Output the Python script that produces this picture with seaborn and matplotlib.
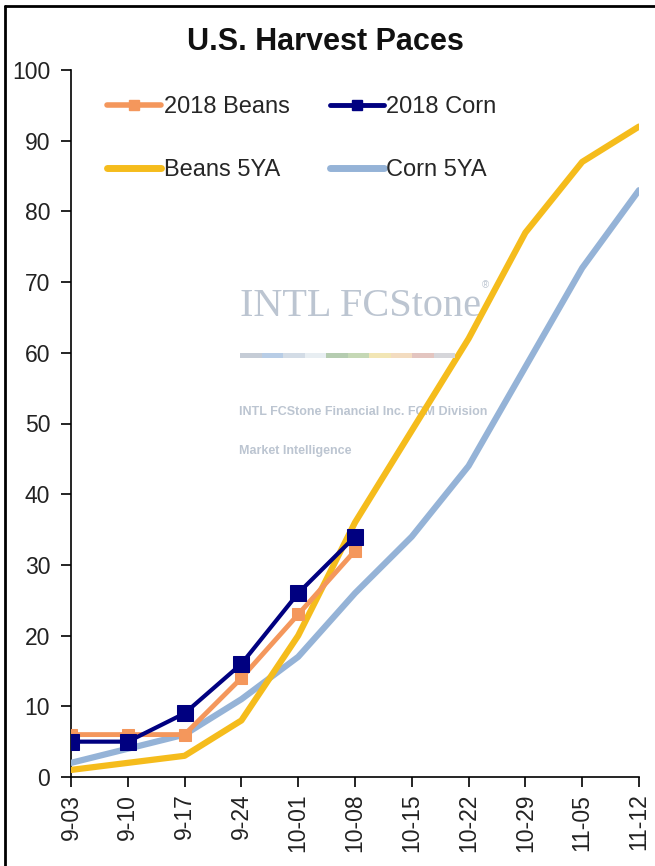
import numpy as np
import pandas as pd
import matplotlib
matplotlib.use('Agg')
import matplotlib.pyplot as plt
from matplotlib.lines import Line2D
from matplotlib.patches import Rectangle
import seaborn as sns

# harvest progress, percent harvested
weeks = ['9-03', '9-10', '9-17', '9-24', '10-01', '10-08',
         '10-15', '10-22', '10-29', '11-05', '11-12']
beans_5ya = [1, 2, 3, 8, 20, 36, 49, 62, 77, 87, 92]
corn_5ya = [2, 4, 6, 11, 17, 26, 34, 44, 58, 72, 83]
beans_2018 = [6, 6, 6, 14, 23, 32]
corn_2018 = [5, 5, 9, 16, 26, 34]

sns.set_style('white')
plt.rcParams['font.family'] = ['Liberation Sans', 'DejaVu Sans']

fig = plt.figure(figsize=(6.55, 8.66), dpi=100)
ax = fig.add_axes([71/655, 1-777/866, (639-71)/655, (777-70)/866])

pos = np.arange(len(weeks))
df5 = pd.DataFrame({'x': pos, 'beans': beans_5ya, 'corn': corn_5ya})
df18 = pd.DataFrame({'x': pos[:len(beans_2018)], 'beans': beans_2018, 'corn': corn_2018})

c_beans18 = '#F4975C'
c_corn18 = '#000080'
c_beans5 = '#F5BC1C'
c_corn5 = '#95B3D7'

sns.lineplot(data=df5, x='x', y='corn', ax=ax, color=c_corn5, linewidth=4.5, zorder=3)
sns.lineplot(data=df5, x='x', y='beans', ax=ax, color=c_beans5, linewidth=4.5, zorder=4)
sns.lineplot(data=df18, x='x', y='beans', ax=ax, color=c_beans18, linewidth=3.5,
             marker='s', markersize=9, markeredgecolor=c_beans18, zorder=5)
sns.lineplot(data=df18, x='x', y='corn', ax=ax, color=c_corn18, linewidth=3,
             marker='s', markersize=11, markeredgecolor=c_corn18, zorder=6)

ax.set_xlim(0, len(weeks) - 1)
ax.set_ylim(0, 100)
ax.set_yticks(range(0, 101, 10))
ax.set_xticks(pos)
ax.set_xticklabels(weeks, rotation=90)
ax.set_xlabel('')
ax.set_ylabel('')
ax.tick_params(axis='both', labelsize=16.5, direction='out', length=7, width=1.2,
               color='black', labelcolor='#222222', left=True, bottom=True)
ax.tick_params(axis='y', pad=8)
ax.tick_params(axis='x', pad=5)
for s in ['top', 'right']:
    ax.spines[s].set_visible(False)
for s in ['left', 'bottom']:
    ax.spines[s].set_color('black')
    ax.spines[s].set_linewidth(1.2)

# watermark
wm = '#BCC5D1'
ax.text(240/655, 1-307/866, 'INTL FCStone', transform=fig.transFigure, fontsize=29,
        family='Liberation Serif', color=wm, ha='left', va='center', zorder=1)
ax.text(482/655, 1-285/866, '®', transform=fig.transFigure, fontsize=7,
        color=wm, ha='left', va='center', zorder=1)
strip = ['#C5CCD6', '#B8CDE6', '#D3DCE6', '#E8EEF2', '#B5CCB0', '#C5D8B5',
         '#F2E6B5', '#F3DCC0', '#E3C5C0', '#D6D6DA']
sw = (455 - 240) / 655 / len(strip)
for i, c in enumerate(strip):
    fig.add_artist(Rectangle((240/655 + i*sw, 1-358/866), sw, 5/866,
                             transform=fig.transFigure, color=c, zorder=1, lw=0))
ax.text(239/655, 1-412/866, 'INTL FCStone Financial Inc. FCM Division',
        transform=fig.transFigure, fontsize=9, color=wm, fontweight='bold',
        ha='left', va='center', zorder=1)
ax.text(239/655, 1-451/866, 'Market Intelligence', transform=fig.transFigure,
        fontsize=9, color=wm, fontweight='bold', ha='left', va='center', zorder=1)

handles = [
    Line2D([], [], color=c_beans18, lw=4, marker='s', markersize=7),
    Line2D([], [], color=c_beans5, lw=5),
    Line2D([], [], color=c_corn18, lw=3.5, marker='s', markersize=7),
    Line2D([], [], color=c_corn5, lw=5),
]
labels = ['2018 Beans', 'Beans 5YA', '2018 Corn', 'Corn 5YA']
ax.legend(handles, labels, ncol=2, loc='upper left', frameon=False,
          bbox_to_anchor=(107/655, 1-96/866), bbox_transform=fig.transFigure,
          fontsize=17, handlelength=2.3, handletextpad=0.1, columnspacing=1.7,
          labelspacing=1.75, borderpad=0, borderaxespad=0)

fig.text(325/655, 1-42/866, 'U.S. Harvest Paces', ha='center', va='center',
         fontsize=22, fontweight='bold', color='#111111')

# frame lines at the top and left of the picture
fig.add_artist(Line2D([5/655, 1], [1-6/866, 1-6/866], transform=fig.transFigure,
                      color='black', lw=2))
fig.add_artist(Line2D([5/655, 5/655], [0, 1-6/866], transform=fig.transFigure,
                      color='black', lw=2))

fig.savefig('out.png', dpi=100)
